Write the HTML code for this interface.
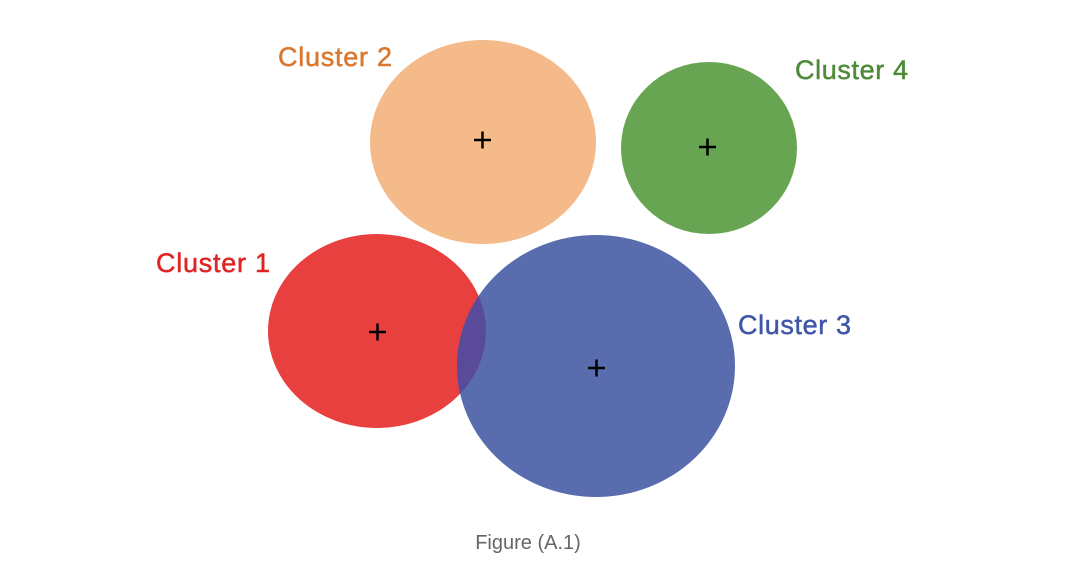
<!DOCTYPE html>
<html><head><style>
html,body{margin:0;padding:0;background:#fff;width:1080px;height:584px;overflow:hidden}
</style></head><body>
<svg width="1080" height="584" viewBox="0 0 1080 584" xmlns="http://www.w3.org/2000/svg">
<defs>
<clipPath id="red"><ellipse cx="377" cy="331" rx="109" ry="97"/></clipPath>
</defs>
<ellipse cx="483" cy="142" rx="113" ry="102" fill="#F4BA8A"/>
<ellipse cx="709" cy="148" rx="88" ry="86" fill="#67A552"/>
<ellipse cx="377" cy="331" rx="109" ry="97" fill="#E8403E"/>
<ellipse cx="596" cy="366" rx="139" ry="131" fill="#596DAE"/>
<ellipse cx="596" cy="366" rx="139" ry="131" fill="#5A4A9A" clip-path="url(#red)"/>
<g stroke="#000" stroke-width="2.5">
<path d="M474 140h17M482.5 131.5v17"/>
<path d="M699 147h17M707.5 138.5v17"/>
<path d="M369 332h17M377.5 323.5v17"/>
<path d="M588 368h17M596.5 359.5v17"/>
</g>
<g font-family="Liberation Sans, sans-serif" font-size="27" stroke-width="0.5">
<text x="278" y="66" fill="#D9772E" stroke="#D9772E" textLength="114">Cluster 2</text>
<text x="795" y="79" fill="#4E8A3A" stroke="#4E8A3A" textLength="113">Cluster 4</text>
<text x="156" y="272" fill="#E02424" stroke="#E02424" textLength="114">Cluster 1</text>
<text x="738" y="334" fill="#4056A8" stroke="#4056A8" textLength="113">Cluster 3</text>
</g>
<text x="528" y="549" font-family="Liberation Sans, sans-serif" font-size="20" fill="#666" text-anchor="middle">Figure (A.1)</text>
</svg>
</body></html>
